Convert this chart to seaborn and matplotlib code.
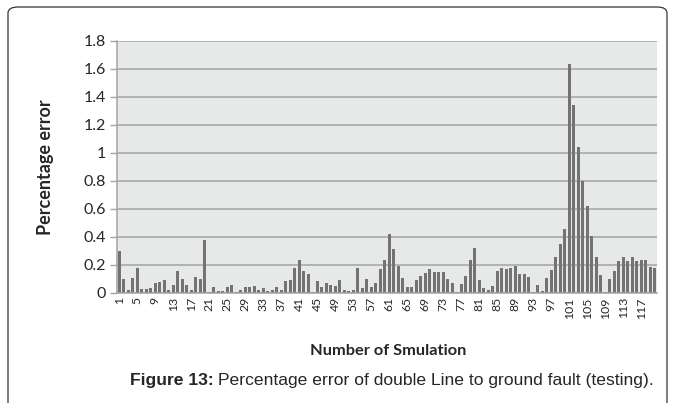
import numpy as np
import pandas as pd
import matplotlib
matplotlib.use("Agg")
import matplotlib.pyplot as plt
from matplotlib.patches import FancyBboxPatch
import seaborn as sns

# percentage error of each simulation
errors = [
    0.30, 0.10, 0.02, 0.105, 0.18, 0.03, 0.03, 0.035, 0.07, 0.08,
    0.095, 0.02, 0.06, 0.155, 0.10, 0.06, 0.025, 0.115, 0.10, 0.38,
    0.01, 0.04, 0.012, 0.017, 0.045, 0.058, 0.007, 0.024, 0.045, 0.04,
    0.053, 0.02, 0.034, 0.012, 0.02, 0.043, 0.02, 0.085, 0.094, 0.18,
    0.235, 0.157, 0.137, 0.01, 0.087, 0.043, 0.075, 0.058, 0.053, 0.096,
    0.024, 0.017, 0.024, 0.176, 0.039, 0.099, 0.046, 0.072, 0.17, 0.236,
    0.42, 0.313, 0.193, 0.106, 0.041, 0.041, 0.094, 0.123, 0.142, 0.169,
    0.15, 0.15, 0.15, 0.099, 0.072, 0.01, 0.067, 0.123, 0.236, 0.318,
    0.096, 0.034, 0.024, 0.05, 0.154, 0.18, 0.169, 0.176, 0.19, 0.135,
    0.135, 0.113, 0.01, 0.055, 0.014, 0.108, 0.166, 0.258, 0.347, 0.457,
    1.636, 1.343, 1.045, 0.798, 0.624, 0.41, 0.255, 0.129, 0.01, 0.10,
    0.16, 0.226, 0.26, 0.231, 0.255, 0.231, 0.236, 0.236, 0.183, 0.176,
]
simulations = list(range(1, len(errors) + 1))
y_ticks = [0, 0.2, 0.4, 0.6, 0.8, 1.0, 1.2, 1.4, 1.6, 1.8]
y_tick_labels = ["0", "0.2", "0.4", "0.6", "0.8", "1", "1.2", "1.4", "1.6", "1.8"]

df = pd.DataFrame({"sim": simulations, "error": errors})

sns.set_style("white")
plt.rcParams["font.family"] = ["Lato", "DejaVu Sans"]

W, H = 677, 403
fig = plt.figure(figsize=(W / 100, H / 100), dpi=100)
ax = fig.add_axes([117 / W, 1 - 293 / H, 540 / W, 252 / H])
ax.set_facecolor("#e7e8e8")

sns.barplot(data=df, x="sim", y="error", color="#737373", width=0.68,
            saturation=1, linewidth=0, ax=ax)

ax.set_ylim(0, 1.8)
ax.set_xlim(-0.5, len(errors) - 0.5)
ax.set_yticks(y_ticks)
ax.set_yticklabels(y_tick_labels, fontsize=11.5)
ax.yaxis.grid(True, color="#a3a3a3", linewidth=1.1)
ax.set_axisbelow(True)

xt = list(range(0, len(errors), 4))
ax.set_xticks(xt)
ax.set_xticklabels([str(simulations[i]) for i in xt], rotation=90, fontsize=8.8)
ax.tick_params(axis="x", length=0, pad=3)
ax.tick_params(axis="y", length=5, width=1, color="#a3a3a3", pad=3, left=True)

for s in ["top", "right"]:
    ax.spines[s].set_visible(False)
ax.spines["left"].set_color("#a3a3a3")
ax.spines["left"].set_linewidth(1.1)
ax.spines["bottom"].set_color("#a3a3a3")
ax.spines["bottom"].set_linewidth(1.1)

ax.set_xlabel("")
ax.set_ylabel("")
fig.text(45 / W, 1 - 167 / H, "Percentage error", rotation=90, fontsize=13,
         fontweight="bold", ha="center", va="center")
fig.text(388 / W, 1 - 351 / H, "Number of Smulation", fontsize=11.8,
         fontweight="bold", ha="center", va="center")

# outer chart frame
frame = FancyBboxPatch((8 / W, -0.1), 659 / W, 1.1 - 7 / H,
                       boxstyle="round,pad=0,rounding_size=0.015",
                       transform=fig.transFigure, fill=False,
                       edgecolor="#333333", linewidth=0.9)
fig.patches.append(frame)

# caption: bold "Figure 13:" followed by normal text
cap_y = 1 - 381 / H
t1 = fig.text(130 / W, cap_y, "Figure 13:", fontsize=12.6, fontweight="bold",
              family=["Liberation Sans", "DejaVu Sans"], va="center")
fig.canvas.draw()
bb = t1.get_window_extent()
fig.text((bb.x1 + 4) / W, cap_y,
         "Percentage error of double Line to ground fault (testing).",
         fontsize=12.6, family=["Liberation Sans", "DejaVu Sans"], va="center")

plt.savefig("out.png", dpi=100)
